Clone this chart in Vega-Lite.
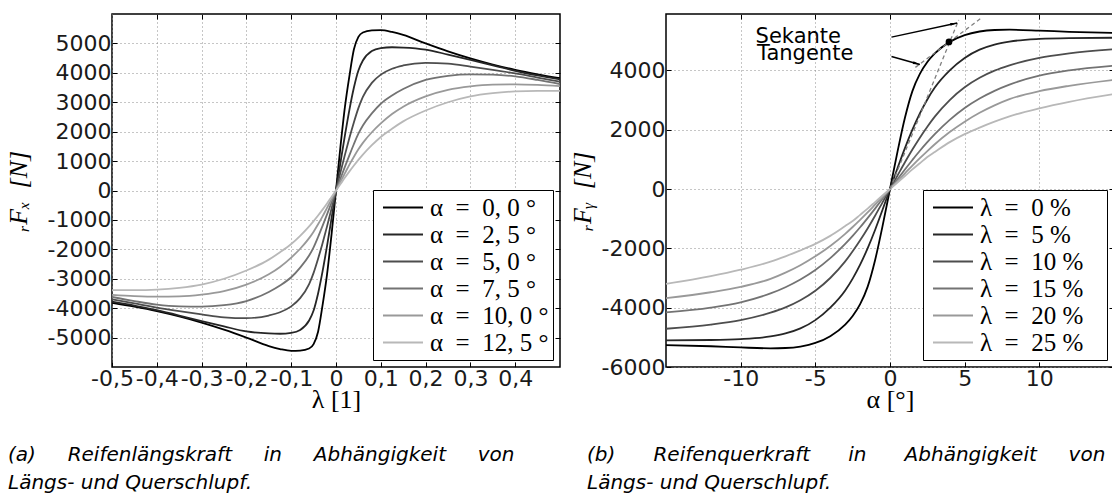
{
  "$schema": "https://vega.github.io/schema/vega-lite/v6.json",
  "autosize": {"type": "none"},
  "padding": {"left": 112, "top": 14, "right": 1000, "bottom": 485},
  "background": "white",
  "spacing": 106,
  "bounds": "flush",
  "config": {
    "view": {"stroke": "black", "strokeWidth": 1.5},
    "axis": {
      "domain": false, "grid": true, "gridColor": "#8c8c8c", "gridDash": [1, 3], "gridWidth": 1,
      "ticks": true, "tickSize": -5, "tickColor": "black", "tickWidth": 1,
      "labelFont": "DejaVu Sans", "labelFontSize": 22, "labelColor": "#1a1a1a", "labelPadding": 6,
      "labelFlush": false, "labelOverlap": false,
      "titleFont": "Liberation Serif, DejaVu Serif", "titleFontSize": 26, "titleFontWeight": "normal", "titleColor": "black"
    },
    "axisX": {"titlePadding": -3},
    "axisY": {"titlePadding": 16},
    "legend": {
      "orient": "bottom-right", "offset": 7, "fillColor": "white", "strokeColor": "black", "strokeWidth": 1,
      "padding": 4, "symbolType": "M-1.6,0H1.6", "symbolSize": 625, "symbolStrokeWidth": 2, "symbolOffset": 12.5,
      "symbolFillColor": "transparent",
      "labelFont": "Liberation Serif, DejaVu Serif", "labelFontSize": 25, "labelColor": "black",
      "rowPadding": 0, "labelOffset": 13.5, "labelLimit": 400
    }
  },
  "datasets": {
    "fx": [
      {"l": -0.5, "a00": -3820, "a25": -3780, "a50": -3700, "a75": -3620, "a100": -3550, "a125": -3390},
      {"l": -0.45, "a00": -3950, "a25": -3910, "a50": -3840, "a75": -3760, "a100": -3590, "a125": -3390},
      {"l": -0.4, "a00": -4100, "a25": -4070, "a50": -3980, "a75": -3880, "a100": -3610, "a125": -3370},
      {"l": -0.35, "a00": -4280, "a25": -4250, "a50": -4100, "a75": -3940, "a100": -3600, "a125": -3310},
      {"l": -0.3, "a00": -4490, "a25": -4440, "a50": -4210, "a75": -3950, "a100": -3540, "a125": -3200},
      {"l": -0.25, "a00": -4730, "a25": -4620, "a50": -4310, "a75": -3900, "a100": -3420, "a125": -3000},
      {"l": -0.2, "a00": -5000, "a25": -4790, "a50": -4340, "a75": -3760, "a100": -3200, "a125": -2720},
      {"l": -0.15, "a00": -5290, "a25": -4860, "a50": -4250, "a75": -3450, "a100": -2850, "a125": -2350},
      {"l": -0.125, "a00": -5390, "a25": -4870, "a50": -4140, "a75": -3230, "a100": -2600, "a125": -2100},
      {"l": -0.1, "a00": -5450, "a25": -4840, "a50": -3940, "a75": -2950, "a100": -2280, "a125": -1820},
      {"l": -0.08, "a00": -5440, "a25": -4740, "a50": -3660, "a75": -2620, "a100": -1980, "a125": -1540},
      {"l": -0.06, "a00": -5370, "a25": -4420, "a50": -3180, "a75": -2210, "a100": -1620, "a125": -1220},
      {"l": -0.05, "a00": -5220, "a25": -4080, "a50": -2800, "a75": -1930, "a100": -1400, "a125": -1040},
      {"l": -0.04, "a00": -4800, "a25": -3500, "a50": -2320, "a75": -1580, "a100": -1150, "a125": -850},
      {"l": -0.03, "a00": -3900, "a25": -2750, "a50": -1790, "a75": -1200, "a100": -880, "a125": -650},
      {"l": -0.02, "a00": -2850, "a25": -1880, "a50": -1220, "a75": -810, "a100": -590, "a125": -440},
      {"l": -0.01, "a00": -1500, "a25": -950, "a50": -620, "a75": -410, "a100": -300, "a125": -220},
      {"l": 0, "a00": 0, "a25": 0, "a50": 0, "a75": 0, "a100": 0, "a125": 0},
      {"l": 0.01, "a00": 1500, "a25": 950, "a50": 620, "a75": 410, "a100": 300, "a125": 220},
      {"l": 0.02, "a00": 2850, "a25": 1880, "a50": 1220, "a75": 810, "a100": 590, "a125": 440},
      {"l": 0.03, "a00": 3900, "a25": 2750, "a50": 1790, "a75": 1200, "a100": 880, "a125": 650},
      {"l": 0.04, "a00": 4800, "a25": 3500, "a50": 2320, "a75": 1580, "a100": 1150, "a125": 850},
      {"l": 0.05, "a00": 5220, "a25": 4080, "a50": 2800, "a75": 1930, "a100": 1400, "a125": 1040},
      {"l": 0.06, "a00": 5370, "a25": 4420, "a50": 3180, "a75": 2210, "a100": 1620, "a125": 1220},
      {"l": 0.08, "a00": 5440, "a25": 4740, "a50": 3660, "a75": 2620, "a100": 1980, "a125": 1540},
      {"l": 0.1, "a00": 5450, "a25": 4840, "a50": 3940, "a75": 2950, "a100": 2280, "a125": 1820},
      {"l": 0.125, "a00": 5390, "a25": 4870, "a50": 4140, "a75": 3230, "a100": 2600, "a125": 2100},
      {"l": 0.15, "a00": 5290, "a25": 4860, "a50": 4250, "a75": 3450, "a100": 2850, "a125": 2350},
      {"l": 0.2, "a00": 5000, "a25": 4790, "a50": 4340, "a75": 3760, "a100": 3200, "a125": 2720},
      {"l": 0.25, "a00": 4730, "a25": 4620, "a50": 4310, "a75": 3900, "a100": 3420, "a125": 3000},
      {"l": 0.3, "a00": 4490, "a25": 4440, "a50": 4210, "a75": 3950, "a100": 3540, "a125": 3200},
      {"l": 0.35, "a00": 4280, "a25": 4250, "a50": 4100, "a75": 3940, "a100": 3600, "a125": 3310},
      {"l": 0.4, "a00": 4100, "a25": 4070, "a50": 3980, "a75": 3880, "a100": 3610, "a125": 3370},
      {"l": 0.45, "a00": 3950, "a25": 3910, "a50": 3840, "a75": 3760, "a100": 3590, "a125": 3390},
      {"l": 0.5, "a00": 3820, "a25": 3780, "a50": 3700, "a75": 3620, "a100": 3550, "a125": 3390}
    ],
    "fy": [
      {"a": -15, "l0": -5260, "l5": -5100, "l10": -4710, "l15": -4160, "l20": -3680, "l25": -3200},
      {"a": -12, "l0": -5300, "l5": -5090, "l10": -4570, "l15": -4000, "l20": -3480, "l25": -2940},
      {"a": -10, "l0": -5340, "l5": -5060, "l10": -4420, "l15": -3820, "l20": -3300, "l25": -2720},
      {"a": -8, "l0": -5370, "l5": -4970, "l10": -4170, "l15": -3520, "l20": -3030, "l25": -2450},
      {"a": -7, "l0": -5360, "l5": -4870, "l10": -3990, "l15": -3310, "l20": -2820, "l25": -2270},
      {"a": -6, "l0": -5310, "l5": -4700, "l10": -3750, "l15": -3050, "l20": -2570, "l25": -2070},
      {"a": -5, "l0": -5190, "l5": -4420, "l10": -3430, "l15": -2730, "l20": -2270, "l25": -1850},
      {"a": -4, "l0": -4960, "l5": -4000, "l10": -3000, "l15": -2330, "l20": -1920, "l25": -1580},
      {"a": -3, "l0": -4570, "l5": -3420, "l10": -2440, "l15": -1850, "l20": -1510, "l25": -1250},
      {"a": -2.5, "l0": -4280, "l5": -3020, "l10": -2100, "l15": -1580, "l20": -1280, "l25": -1080},
      {"a": -2, "l0": -3880, "l5": -2550, "l10": -1730, "l15": -1290, "l20": -1040, "l25": -870},
      {"a": -1.5, "l0": -3300, "l5": -2000, "l10": -1330, "l15": -980, "l20": -790, "l25": -660},
      {"a": -1, "l0": -2400, "l5": -1380, "l10": -900, "l15": -660, "l20": -530, "l25": -440},
      {"a": -0.5, "l0": -1250, "l5": -700, "l10": -450, "l15": -330, "l20": -270, "l25": -220},
      {"a": 0, "l0": 0, "l5": 0, "l10": 0, "l15": 0, "l20": 0, "l25": 0},
      {"a": 0.5, "l0": 1250, "l5": 700, "l10": 450, "l15": 330, "l20": 270, "l25": 220},
      {"a": 1, "l0": 2400, "l5": 1380, "l10": 900, "l15": 660, "l20": 530, "l25": 440},
      {"a": 1.5, "l0": 3300, "l5": 2000, "l10": 1330, "l15": 980, "l20": 790, "l25": 660},
      {"a": 2, "l0": 3880, "l5": 2550, "l10": 1730, "l15": 1290, "l20": 1040, "l25": 870},
      {"a": 2.5, "l0": 4280, "l5": 3020, "l10": 2100, "l15": 1580, "l20": 1280, "l25": 1080},
      {"a": 3, "l0": 4570, "l5": 3420, "l10": 2440, "l15": 1850, "l20": 1510, "l25": 1250},
      {"a": 4, "l0": 4960, "l5": 4000, "l10": 3000, "l15": 2330, "l20": 1920, "l25": 1580},
      {"a": 5, "l0": 5190, "l5": 4420, "l10": 3430, "l15": 2730, "l20": 2270, "l25": 1850},
      {"a": 6, "l0": 5310, "l5": 4700, "l10": 3750, "l15": 3050, "l20": 2570, "l25": 2070},
      {"a": 7, "l0": 5360, "l5": 4870, "l10": 3990, "l15": 3310, "l20": 2820, "l25": 2270},
      {"a": 8, "l0": 5370, "l5": 4970, "l10": 4170, "l15": 3520, "l20": 3030, "l25": 2450},
      {"a": 10, "l0": 5340, "l5": 5060, "l10": 4420, "l15": 3820, "l20": 3300, "l25": 2720},
      {"a": 12, "l0": 5300, "l5": 5090, "l10": 4570, "l15": 4000, "l20": 3480, "l25": 2940},
      {"a": 15, "l0": 5260, "l5": 5100, "l10": 4710, "l15": 4160, "l20": 3680, "l25": 3200}
    ],
    "dash": [
      {"g": "s", "a": 0, "f": 0},
      {"g": "s", "a": 4.6, "f": 5700},
      {"g": "t", "a": 1.7, "f": 4100},
      {"g": "t", "a": 6.1, "f": 5760}
    ],
    "dot": [{"a": 3.95, "f": 4960}],
    "arrows": [
      {"id": "s", "a": 0.1, "f": 5120, "a2": 4.5, "f2": 5600},
      {"id": "t", "a": 0.1, "f": 4470, "a2": 2.0, "f2": 4200}
    ],
    "labels": [
      {"t": "Sekante", "a": -9.0, "f": 4930},
      {"t": "Tangente", "a": -8.9, "f": 4360}
    ]
  },
  "resolve": {"scale": {"color": "independent"}, "legend": {"color": "independent"}},
  "hconcat": [
    {
      "width": 448,
      "height": 353,
      "data": {"name": "fx"},
      "resolve": {"axis": {"x": "independent", "y": "independent"}},
      "layer": [
        {
          "transform": [{"fold": ["a00", "a25", "a50", "a75", "a100", "a125"], "as": ["k", "F"]}],
          "mark": {"type": "line", "strokeWidth": 1.8, "interpolate": "monotone", "clip": true},
          "encoding": {
            "x": {
              "field": "l", "type": "quantitative",
              "scale": {"domain": [-0.5, 0.5], "nice": false, "zero": false},
              "axis": {
                "title": "λ [1]",
                "values": [-0.5, -0.4, -0.3, -0.2, -0.1, 0, 0.1, 0.2, 0.3, 0.4],
                "labelExpr": "datum.value == 0 ? '0' : (datum.value < 0 ? '-' : '') + replace(format(abs(datum.value), '.1f'), '.', ',')"
              }
            },
            "y": {
              "field": "F", "type": "quantitative",
              "scale": {"domain": [-6000, 6000], "nice": false},
              "axis": {
                "title": "ᵣFₓ\u00a0\u00a0[N]", "titleFontStyle": "italic",
                "values": [-5000, -4000, -3000, -2000, -1000, 0, 1000, 2000, 3000, 4000, 5000],
                "labelExpr": "(datum.value < 0 ? '-' : '') + format(abs(datum.value), 'd')"
              }
            },
            "color": {
              "field": "k", "type": "nominal",
              "scale": {"domain": ["a00", "a25", "a50", "a75", "a100", "a125"], "range": ["#000000", "#262626", "#4d4d4d", "#737373", "#999999", "#b8b8b8"]},
              "legend": {
                "title": null,
                "labelExpr": "{'a00': 'α\u00a0\u00a0=\u00a0\u00a00,\u00a00\u00a0°', 'a25': 'α\u00a0\u00a0=\u00a0\u00a02,\u00a05\u00a0°', 'a50': 'α\u00a0\u00a0=\u00a0\u00a05,\u00a00\u00a0°', 'a75': 'α\u00a0\u00a0=\u00a0\u00a07,\u00a05\u00a0°', 'a100': 'α\u00a0\u00a0=\u00a0\u00a010,\u00a00\u00a0°', 'a125': 'α\u00a0\u00a0=\u00a0\u00a012,\u00a05\u00a0°'}[datum.label]"
              }
            }
          }
        },
        {
          "mark": {"type": "point", "opacity": 0},
          "encoding": {
            "x": {
              "field": "l", "type": "quantitative",
              "axis": {"orient": "top", "labels": false, "grid": false, "title": null, "values": [-0.4, -0.3, -0.2, -0.1, 0, 0.1, 0.2, 0.3, 0.4]}
            },
            "y": {
              "field": "a00", "type": "quantitative",
              "axis": {"orient": "right", "labels": false, "grid": false, "title": null, "values": [-5000, -4000, -3000, -2000, -1000, 0, 1000, 2000, 3000, 4000, 5000]}
            }
          }
        }
      ],
      "title": {
        "text": ["(a)\u00a0\u00a0\u00a0\u00a0\u00a0Reifenlängskraft\u00a0\u00a0\u00a0\u00a0\u00a0in\u00a0\u00a0\u00a0\u00a0\u00a0Abhängigkeit\u00a0\u00a0\u00a0\u00a0\u00a0von", "Längs- und Querschlupf."],
        "orient": "bottom", "anchor": "start", "frame": "group", "dx": -104, "offset": 33,
        "font": "DejaVu Sans", "fontStyle": "italic", "fontWeight": "normal", "fontSize": 20, "lineHeight": 28, "color": "black"
      }
    },
    {
      "width": 448,
      "height": 353,
      "resolve": {"axis": {"x": "independent", "y": "independent"}},
      "layer": [
        {
          "data": {"name": "fy"},
          "transform": [{"fold": ["l0", "l5", "l10", "l15", "l20", "l25"], "as": ["k", "f"]}],
          "mark": {"type": "line", "strokeWidth": 1.8, "interpolate": "monotone", "clip": true},
          "encoding": {
            "x": {
              "field": "a", "type": "quantitative",
              "scale": {"domain": [-15, 15], "nice": false, "zero": false},
              "axis": {
                "title": "α [°]",
                "values": [-10, -5, 0, 5, 10],
                "labelExpr": "(datum.value < 0 ? '-' : '') + format(abs(datum.value), 'd')"
              }
            },
            "y": {
              "field": "f", "type": "quantitative",
              "scale": {"domain": [-6000, 5900], "nice": false},
              "axis": {
                "title": "ᵣFᵧ\u00a0\u00a0[N]", "titleFontStyle": "italic", "titlePadding": 6,
                "values": [-6000, -4000, -2000, 0, 2000, 4000],
                "labelExpr": "(datum.value < 0 ? '-' : '') + format(abs(datum.value), 'd')"
              }
            },
            "color": {
              "field": "k", "type": "nominal",
              "scale": {"domain": ["l0", "l5", "l10", "l15", "l20", "l25"], "range": ["#000000", "#262626", "#4d4d4d", "#737373", "#999999", "#b8b8b8"]},
              "legend": {
                "title": null,
                "labelExpr": "{'l0': 'λ\u00a0\u00a0=\u00a0\u00a00\u00a0%', 'l5': 'λ\u00a0\u00a0=\u00a0\u00a05\u00a0%', 'l10': 'λ\u00a0\u00a0=\u00a0\u00a010\u00a0%', 'l15': 'λ\u00a0\u00a0=\u00a0\u00a015\u00a0%', 'l20': 'λ\u00a0\u00a0=\u00a0\u00a020\u00a0%', 'l25': 'λ\u00a0\u00a0=\u00a0\u00a025\u00a0%\u00a0\u00a0\u00a0\u200c'}[datum.label]"
              }
            }
          }
        },
        {
          "data": {"name": "dash"},
          "mark": {"type": "line", "color": "#808080", "strokeDash": [4, 3], "strokeWidth": 1.3, "clip": true},
          "encoding": {
            "x": {"field": "a", "type": "quantitative", "axis": null},
            "y": {"field": "f", "type": "quantitative", "axis": null},
            "detail": {"field": "g", "type": "nominal"}
          }
        },
        {
          "data": {"name": "dot"},
          "mark": {"type": "point", "filled": true, "color": "black", "size": 45, "opacity": 1},
          "encoding": {
            "x": {
              "field": "a", "type": "quantitative",
              "axis": {"orient": "top", "labels": false, "grid": false, "title": null, "values": [-10, -5, 0, 5, 10]}
            },
            "y": {
              "field": "f", "type": "quantitative",
              "axis": {"orient": "right", "labels": false, "grid": false, "title": null, "values": [-6000, -4000, -2000, 0, 2000, 4000]}
            }
          }
        },
        {
          "data": {"name": "arrows"},
          "mark": {"type": "rule", "color": "black", "strokeWidth": 1.5},
          "encoding": {
            "x": {"field": "a", "type": "quantitative", "axis": null},
            "y": {"field": "f", "type": "quantitative", "axis": null},
            "x2": {"field": "a2"}, "y2": {"field": "f2"}
          }
        },
        {
          "data": {"name": "arrows"},
          "transform": [{"filter": "datum.id == 's'"}],
          "mark": {"type": "point", "shape": "M0,0L-0.45,2.2L0.45,2.2Z", "filled": true, "color": "black", "size": 40, "opacity": 1, "angle": 78},
          "encoding": {"x": {"field": "a2", "type": "quantitative", "axis": null}, "y": {"field": "f2", "type": "quantitative", "axis": null}}
        },
        {
          "data": {"name": "arrows"},
          "transform": [{"filter": "datum.id == 't'"}],
          "mark": {"type": "point", "shape": "M0,0L-0.45,2.2L0.45,2.2Z", "filled": true, "color": "black", "size": 40, "opacity": 1, "angle": 106},
          "encoding": {"x": {"field": "a2", "type": "quantitative", "axis": null}, "y": {"field": "f2", "type": "quantitative", "axis": null}}
        },
        {
          "data": {"name": "labels"},
          "mark": {"type": "text", "align": "left", "baseline": "alphabetic", "font": "DejaVu Sans", "fontSize": 21, "color": "black"},
          "encoding": {
            "x": {"field": "a", "type": "quantitative", "axis": null},
            "y": {"field": "f", "type": "quantitative", "axis": null},
            "text": {"field": "t"}
          }
        }
      ],
      "title": {
        "text": ["(b)\u00a0\u00a0\u00a0\u00a0\u00a0\u00a0Reifenquerkraft\u00a0\u00a0\u00a0\u00a0\u00a0\u00a0in\u00a0\u00a0\u00a0\u00a0\u00a0\u00a0Abhängigkeit\u00a0\u00a0\u00a0\u00a0\u00a0von", "Längs- und Querschlupf."],
        "orient": "bottom", "anchor": "start", "frame": "group", "dx": -79, "offset": 33,
        "font": "DejaVu Sans", "fontStyle": "italic", "fontWeight": "normal", "fontSize": 20, "lineHeight": 28, "color": "black"
      }
    }
  ]
}
